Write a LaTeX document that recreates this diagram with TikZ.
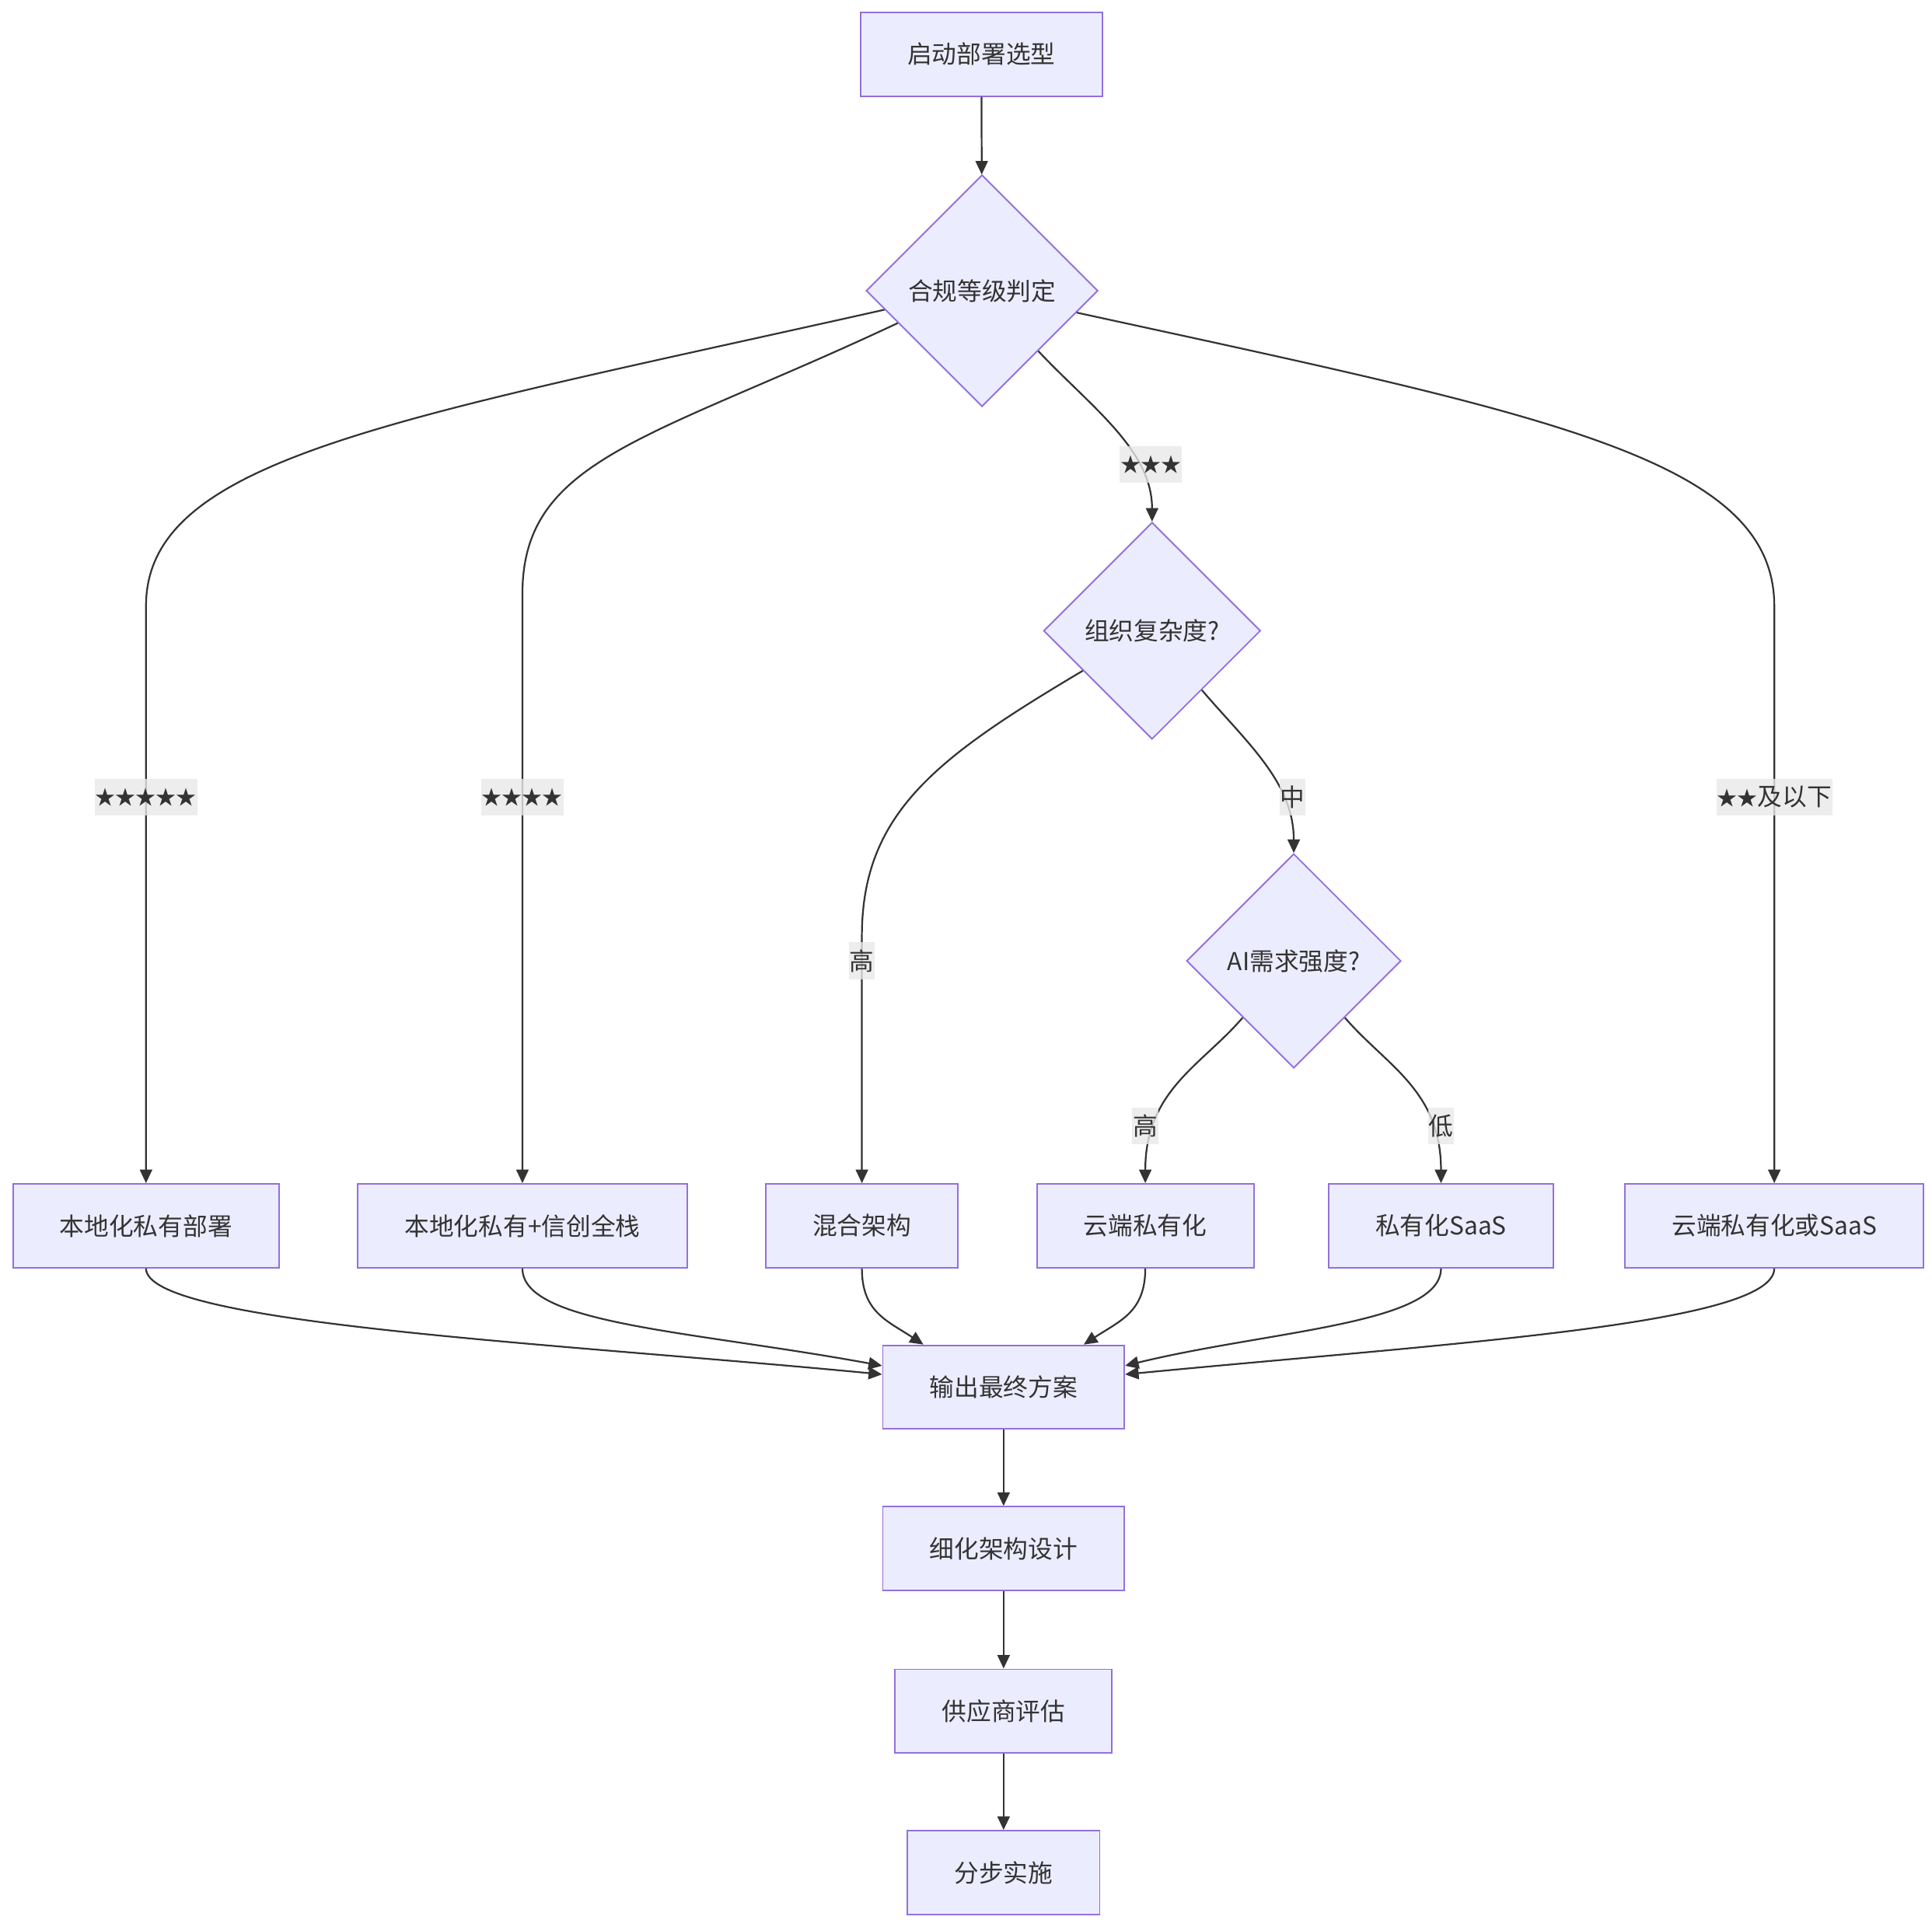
\documentclass[tikz,border=0pt]{standalone}
\usepackage{fontspec}
\setmainfont{Noto Sans CJK SC}
\newcommand{\stars}[1]{{\fontsize{8.2pt}{10pt}\selectfont #1}}
\usetikzlibrary{shapes.geometric,arrows.meta}
\definecolor{mfill}{HTML}{ECECFF}
\definecolor{mstroke}{HTML}{9370DB}
\definecolor{mtext}{HTML}{333333}
\definecolor{medge}{HTML}{333333}
\definecolor{mlab}{HTML}{E8E8E8}
\begin{document}
\begin{tikzpicture}[x=0.5pt,y=-0.5pt,
  box/.style={draw=mstroke, fill=mfill, line width=0.6pt, minimum height=34pt, inner xsep=19pt, text=mtext},
  dia/.style={diamond, draw=mstroke, fill=mfill, line width=0.6pt, aspect=1, inner sep=0pt, text=mtext},
  edge/.style={draw=medge, line width=0.7pt, -{Triangle[length=5.5pt,width=5pt]}},
  lbl/.style={fill=mlab, fill opacity=0.8, text opacity=1, inner xsep=0.3pt, inner ysep=0pt, minimum height=15pt, text=mtext}]
\useasboundingbox (0,0) rectangle (1568,1564);
% nodes
\node[box] (s) at (796.5,44) {启动部署选型};
\node[dia, minimum size=94pt] (d1) at (797,236) {合规等级判定};
\node[dia, minimum size=88pt] (d2) at (935,512) {组织复杂度?};
\node[dia, minimum size=87pt] (d3) at (1050,780) {AI需求强度?};
\node[box] (n1) at (118.5,995) {本地化私有部署};
\node[box] (n2) at (424,995) {本地化私有+信创全栈};
\node[box] (n3) at (699.5,995) {混合架构};
\node[box] (n4) at (929.5,995) {云端私有化};
\node[box] (n5) at (1169.5,995) {私有化SaaS};
\node[box] (n7) at (1440,995) {云端私有化或SaaS};
\node[box] (o) at (814.5,1126) {输出最终方案};
\node[box] (r) at (814.5,1257) {细化架构设计};
\node[box] (v) at (814.5,1389) {供应商评估};
\node[box] (f) at (814.5,1520) {分步实施};
% edges
\draw[edge] (s) -- (d1);
\draw[edge] (d1.191) .. controls (318,341) and (118.5,372) .. (118.5,492) -- (n1.north);
\draw[edge] (d1.201) .. controls (527,357) and (424,372) .. (424,482) -- (n2.north);
\draw[edge] (d1.313) .. controls (885,330) and (935,365) .. (d2.north);
\draw[edge] (d1.347) .. controls (1256,337) and (1440,372) .. (1440,492) -- (n7.north);
\draw[edge] (d2.210) .. controls (760,615) and (699.5,660) .. (699.5,760) -- (n3.north);
\draw[edge] (d2.310) .. controls (1012,603) and (1050,635) .. (d3.north);
\draw[edge] (d3.228) .. controls (975,865) and (929.5,885) .. (n4.north);
\draw[edge] (d3.312) .. controls (1125,865) and (1169.5,885) .. (n5.north);
\draw[edge] (n1.south) .. controls (118.5,1075) and (450,1090) .. (o.174);
\draw[edge] (n2.south) .. controls (424,1075) and (560,1080) .. (o.170);
\draw[edge] (n3.south) .. controls (699.5,1065) and (720,1072) .. (o.152);
\draw[edge] (n4.south) .. controls (929.5,1065) and (909,1072) .. (o.28);
\draw[edge] (n5.south) .. controls (1169.5,1075) and (1030,1080) .. (o.10);
\draw[edge] (n7.south) .. controls (1440,1075) and (1180,1090) .. (o.6);
\draw[edge] (o) -- (r);
\draw[edge] (r) -- (v);
\draw[edge] (v) -- (f);
% edge labels
\node[lbl] (la) at (118.5,647) {\stars{★★★★★}};
\node[lbl] (lb) at (424,647) {\stars{★★★★}};
\node[lbl] (lc) at (934,377) {\stars{★★★}};
\node[lbl] (ld) at (1440,647) {\stars{★★}及以下};
\node[lbl] (le) at (699.5,780) {高};
\node[lbl] (lf) at (1049,647) {中};
\node[lbl] (lg) at (929.5,914) {高};
\node[lbl] (lh) at (1169.5,914) {低};
\end{tikzpicture}
\end{document}
